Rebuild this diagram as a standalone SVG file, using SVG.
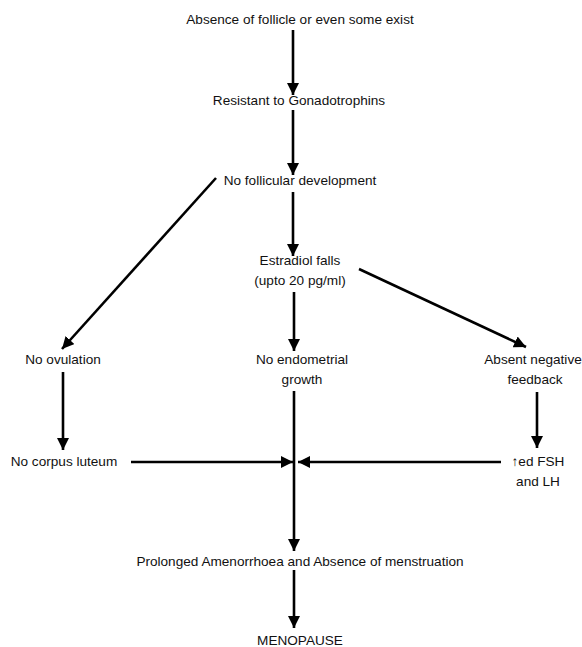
<svg xmlns="http://www.w3.org/2000/svg" width="582" height="647" viewBox="0 0 582 647">
<style>
text{font-family:"Liberation Sans",Arial,sans-serif;font-size:13.6px;fill:#111;text-anchor:middle}
.c line{stroke:#000;stroke-width:2.6;fill:none}
</style>
<defs>
<marker id="ah" markerUnits="userSpaceOnUse" markerWidth="12" markerHeight="12" viewBox="0 0 12 12" refX="12" refY="6" orient="auto">
<path d="M0,0 L12,6 L0,12 Z" fill="#000"/>
</marker>
</defs>
<rect width="582" height="647" fill="#fff"/>
<g id="n1"><text x="300" y="24">Absence of follicle or even some exist</text></g>
<g id="n2"><text x="299" y="105">Resistant to Gonadotrophins</text></g>
<g id="n3"><text x="300" y="185">No follicular development</text></g>
<g id="n4"><text x="300" y="265">Estradiol falls</text><text x="300" y="285">(upto 20 pg/ml)</text></g>
<g id="n5"><text x="63" y="364">No ovulation</text></g>
<g id="n6"><text x="302" y="364">No endometrial</text><text x="302" y="384">growth</text></g>
<g id="n7"><text x="533" y="364">Absent negative</text><text x="535" y="384">feedback</text></g>
<g id="n8"><text x="64" y="466">No corpus luteum</text></g>
<g id="n9"><text x="538" y="466">↑ed FSH</text><text x="538" y="486">and LH</text></g>
<g id="n10"><text x="300" y="566">Prolonged Amenorrhoea and Absence of menstruation</text></g>
<g id="n11"><text x="300" y="645">MENOPAUSE</text></g>
<g class="c" id="connectors">
<line x1="293" y1="30" x2="293" y2="95" marker-end="url(#ah)"/>
<line x1="293" y1="110" x2="293" y2="175" marker-end="url(#ah)"/>
<line x1="216" y1="178" x2="62" y2="349" marker-end="url(#ah)"/>
<line x1="293" y1="192" x2="293" y2="256" marker-end="url(#ah)"/>
<line x1="359" y1="269" x2="526" y2="347" marker-end="url(#ah)"/>
<line x1="294" y1="292" x2="294" y2="351" marker-end="url(#ah)"/>
<line x1="63" y1="372" x2="63" y2="450" marker-end="url(#ah)"/>
<line x1="537" y1="392" x2="537" y2="448" marker-end="url(#ah)"/>
<line x1="294" y1="391" x2="294" y2="551" marker-end="url(#ah)"/>
<line x1="131" y1="462" x2="293" y2="462" marker-end="url(#ah)"/>
<line x1="501" y1="462" x2="298" y2="462" marker-end="url(#ah)"/>
<line x1="294" y1="570" x2="294" y2="628" marker-end="url(#ah)"/>
</g>
</svg>
